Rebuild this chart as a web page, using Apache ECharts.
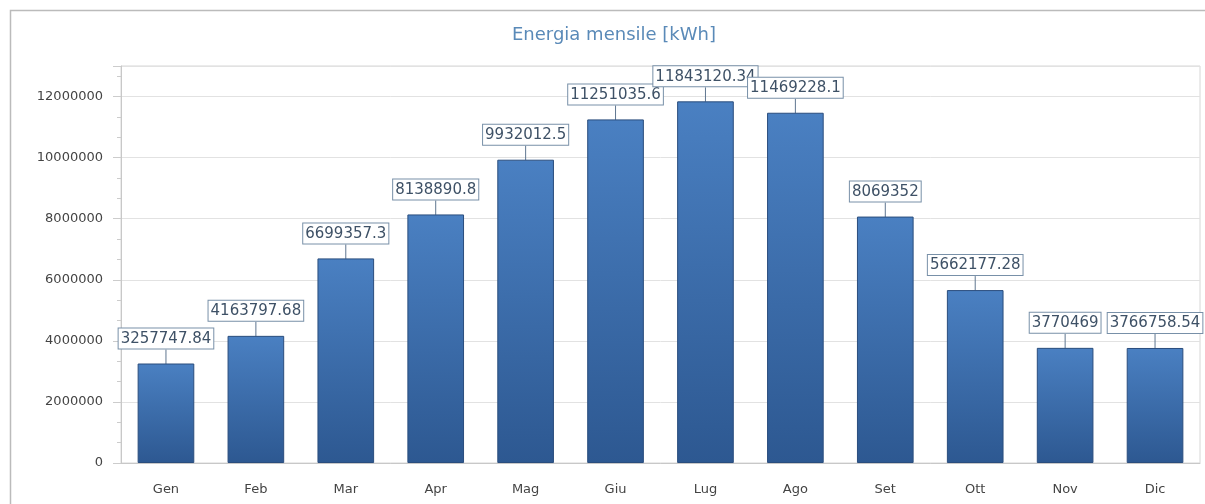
<!DOCTYPE html>
<html>
<head>
<meta charset="utf-8">
<script src="https://cdn.jsdelivr.net/npm/echarts@6/dist/echarts.min.js"></script>
<style>
  html, body { margin: 0; padding: 0; background: #fff; }
  #main { width: 1205px; height: 504px; }
</style>
</head>
<body>
<div id="main"></div>
<script>
// dati mensili
var months = ['Gen', 'Feb', 'Mar', 'Apr', 'Mag', 'Giu', 'Lug', 'Ago', 'Set', 'Ott', 'Nov', 'Dic'];
var energy = [3257747.84, 4163797.68, 6699357.3, 8138890.8, 9932012.5, 11251035.6,
              11843120.34, 11469228.1, 8069352, 5662177.28, 3770469, 3766758.54];

var chart = echarts.init(document.getElementById('main'), null, { renderer: 'canvas' });

var option = {
  animation: false,
  backgroundColor: '#fff',
  graphic: [
    {
      type: 'rect',
      left: 8, top: 8,
      shape: { width: 1220, height: 520 },
      style: { fill: 'none', stroke: '#bbbbbb', lineWidth: 1.5 },
      z: -1
    }
  ],
  title: {
    text: 'Energia mensile [kWh]',
    left: 507,
    top: 21,
    textStyle: {
      color: '#5a8ab8',
      fontFamily: 'DejaVu Sans',
      fontSize: 18,
      fontWeight: 'normal'
    }
  },
  grid: {
    left: 121,
    right: 5,
    top: 66,
    bottom: 41,
    show: true,
    borderColor: '#d6d6d6',
    borderWidth: 1
  },
  xAxis: {
    type: 'category',
    data: months,
    axisLine: { lineStyle: { color: '#c8c8c8' } },
    axisTick: { alignWithLabel: true, length: 5, lineStyle: { color: '#c8c8c8' } },
    axisLabel: {
      color: '#444',
      fontFamily: 'DejaVu Sans',
      fontSize: 13,
      margin: 20
    }
  },
  yAxis: {
    type: 'value',
    min: 0,
    max: 13000000,
    interval: 2000000,
    axisLine: { show: true, lineStyle: { color: '#c8c8c8' } },
    axisTick: { show: true, length: 8, lineStyle: { color: '#cccccc' } },
    minorTick: { show: true, splitNumber: 3, length: 4, lineStyle: { color: '#cccccc' } },
    splitLine: { lineStyle: { color: '#e2e2e2' } },
    axisLabel: {
      color: '#444',
      fontFamily: 'DejaVu Sans',
      fontSize: 13,
      margin: 18,
      showMaxLabel: false,
      formatter: function (v) { return String(v); }
    }
  },
  series: [
    {
      type: 'bar',
      data: energy,
      barWidth: '63%',
      itemStyle: {
        color: new echarts.graphic.LinearGradient(0, 0, 0, 1, [
          { offset: 0, color: '#4a80c2' },
          { offset: 1, color: '#2d5891' }
        ]),
        borderColor: '#2a4d7d',
        borderWidth: 1
      },
      label: {
        show: true,
        position: 'top',
        distance: 0,
        color: '#3e5166',
        fontFamily: 'DejaVu Sans',
        fontSize: 15,
        backgroundColor: '#fff',
        borderColor: '#7890a8',
        borderWidth: 1,
        padding: [3, 2, 2, 2]
      },
      labelLayout: { dy: -15 },
      labelLine: {
        show: true,
        lineStyle: { color: '#5f7690', width: 1 }
      }
    }
  ]
};

chart.setOption(option);
</script>
</body>
</html>
